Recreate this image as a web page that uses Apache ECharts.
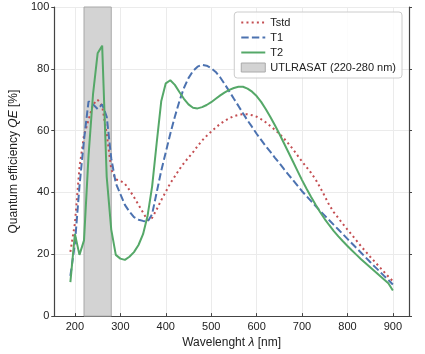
<!DOCTYPE html>
<html>
<head>
<meta charset="utf-8">
<script src="https://cdn.jsdelivr.net/npm/echarts@6/dist/echarts.min.js"></script>
<style>
  html, body { margin: 0; padding: 0; background: #fff; }
  #chart { width: 425px; height: 354px; }
</style>
</head>
<body>
<div id="chart"></div>
<script>
// wavelength grid, 10 nm steps from 190 to 900
var wavelength = [];
for (var w = 190; w <= 900; w += 10) wavelength.push(w);

var tstd = [20.8, 30, 48, 58.5, 63.5, 68.5, 70, 68, 59, 47.5,
  44.2, 43.8, 42.8, 40.8, 38.5, 36, 33.5, 31, 31.8, 34.5,
  37.5, 40.2, 43, 45.2, 47.5, 49.5, 51.3, 53, 55, 56.8,
  58.3, 59.7, 61, 62.2, 63.2, 64, 64.7, 65.1, 65.3, 65.3,
  65, 64.5, 63.7, 62.7, 61.5, 60.3, 59, 57.5, 55.8, 54,
  52, 50, 48.2, 46.3, 44.2, 41.6, 38.8, 35.9, 33.6, 31.7,
  29.8, 28, 26.2, 24.4, 22.6, 20.9, 19.2, 17.6, 16, 14.4,
  12.8, 11.3];

var t1 = [13, 23.5, 42, 57, 69.5, 68.5, 67, 68.5, 64.5, 51,
  43, 39.5, 36, 33.8, 32, 31.2, 30.8, 30.5, 33, 40,
  47, 53, 59, 64.5, 69.5, 73.8, 77, 79.3, 80.7, 81.3,
  81, 80.2, 79, 77.2, 75, 72.7, 70.3, 68, 65.6, 63.3,
  61.2, 59, 57, 55, 53.2, 51.3, 49.5, 47.6, 45.8, 44,
  42.2, 40.4, 38.8, 37.2, 35.6, 34, 32.5, 31, 29.5, 28,
  26.5, 25, 23.5, 22, 20.5, 19, 17.5, 16, 14.6, 13.1,
  11.7, 10.2];

var t2 = [11, 26.6, 19.8, 24.5, 52, 72, 85, 87.5, 45, 28,
  19.8, 18.6, 18.2, 19.2, 20.7, 23, 26.5, 32.5, 42, 56,
  69.5, 75.3, 76.3, 74.8, 72.5, 70.3, 68.5, 67.4, 67.2, 67.6,
  68.3, 69.2, 70.3, 71.4, 72.4, 73.2, 73.8, 74.2, 74.2, 73.6,
  72.6, 71.2, 69.3, 67, 64.5, 61.8, 59, 56, 53, 50,
  47, 44, 41.2, 38.5, 36, 33.6, 31.4, 29.4, 27.5, 25.8,
  24.2, 22.7, 21.2, 19.8, 18.4, 17.1, 15.8, 14.5, 13.2, 11.9,
  10.6, 8.3];

var bandRange = [220, 280];
var xTicks = [200, 300, 400, 500, 600, 700, 800, 900];
var xMin = 154.5, xMax = 935.5;

function pairs(ys) {
  return wavelength.map(function (x, i) { return [x, ys[i]]; });
}

var font = '"Liberation Sans", Arial, sans-serif';
var spine = { color: '#444', width: 1.2 };
var nameRich = {
  a: { fontFamily: font, fontSize: 12, color: '#222' },
  i: { fontFamily: font, fontSize: 12, color: '#222', fontStyle: 'italic' }
};
// line entries in the legend: line only, no marker
var noMarker = { opacity: 0 };

var chart = echarts.init(document.getElementById('chart'), null, { renderer: 'canvas' });
chart.setOption({
  animation: false,
  backgroundColor: '#fff',
  textStyle: { fontFamily: font },
  grid: { left: 50, right: 16, top: 7, bottom: 35 },
  legend: {
    orient: 'vertical',
    right: 23,
    top: 12,
    padding: [4, 6, 4, 6],
    itemWidth: 24,
    itemHeight: 9,
    itemGap: 2,
    backgroundColor: 'rgba(255,255,255,0.85)',
    borderColor: '#cccccc',
    borderWidth: 1,
    borderRadius: 3,
    textStyle: { fontFamily: font, fontSize: 11, color: '#222', lineHeight: 13 },
    data: [
      { name: 'Tstd', itemStyle: noMarker },
      { name: 'T1', itemStyle: noMarker },
      { name: 'T2', itemStyle: noMarker },
      { name: 'UTLRASAT (220-280 nm)', icon: 'rect',
        itemStyle: { color: '#d3d3d3', borderColor: '#aaaaaa', borderWidth: 1 } }
    ]
  },
  xAxis: [{
    type: 'value', position: 'bottom', min: xMin, max: xMax,
    axisLine: { show: true, lineStyle: spine },
    axisTick: { show: false, customValues: xTicks },
    axisLabel: { customValues: xTicks, fontSize: 11, color: '#222', margin: 5 },
    splitLine: { show: true, lineStyle: { color: '#ebebeb', width: 1 } },
    name: '{a|Wavelenght }{i|λ}{a| [nm]}',
    nameLocation: 'middle', nameGap: 20,
    nameTextStyle: { rich: nameRich }
  }, {
    type: 'value', position: 'top', min: xMin, max: xMax,
    axisLine: { show: true, lineStyle: spine },
    axisTick: { show: true, length: 3, customValues: xTicks, lineStyle: { color: '#444' } },
    axisLabel: { show: false },
    splitLine: { show: false }
  }],
  yAxis: [{
    type: 'value', position: 'left', min: 0, max: 100, interval: 20,
    axisLine: { show: true, lineStyle: spine },
    axisTick: { show: true, length: 3, lineStyle: { color: '#444' } },
    axisLabel: { fontSize: 11, color: '#222', margin: 5 },
    splitLine: { show: true, lineStyle: { color: '#ebebeb', width: 1 } },
    name: '{a|Quantum efficiency }{i|QE}{a| [%]}',
    nameLocation: 'middle', nameGap: 27,
    nameTextStyle: { rich: nameRich }
  }, {
    type: 'value', position: 'right', min: 0, max: 100, interval: 20,
    axisLine: { show: true, lineStyle: spine },
    axisTick: { show: true, length: 3, lineStyle: { color: '#444' } },
    axisLabel: { show: false },
    splitLine: { show: false }
  }],
  series: [
    {
      name: 'UTLRASAT (220-280 nm)', type: 'line', data: [], z: 1,
      itemStyle: { color: '#d3d3d3' },
      markArea: {
        silent: true,
        itemStyle: { color: '#d3d3d3', borderColor: '#a8a8a8', borderWidth: 1 },
        data: [[{ xAxis: bandRange[0] }, { xAxis: bandRange[1] }]]
      }
    },
    {
      name: 'Tstd', type: 'line', data: pairs(tstd), showSymbol: false, symbol: 'none', z: 3,
      itemStyle: { color: '#C44E52' },
      lineStyle: { color: '#C44E52', width: 2, type: [2, 3.2], cap: 'butt' }
    },
    {
      name: 'T1', type: 'line', data: pairs(t1), showSymbol: false, symbol: 'none', z: 3,
      itemStyle: { color: '#4C72B0' },
      lineStyle: { color: '#4C72B0', width: 2, type: [7.4, 3.2] }
    },
    {
      name: 'T2', type: 'line', data: pairs(t2), showSymbol: false, symbol: 'none', z: 3,
      itemStyle: { color: '#55A868' },
      lineStyle: { color: '#55A868', width: 2 }
    }
  ]
});
</script>
</body>
</html>
